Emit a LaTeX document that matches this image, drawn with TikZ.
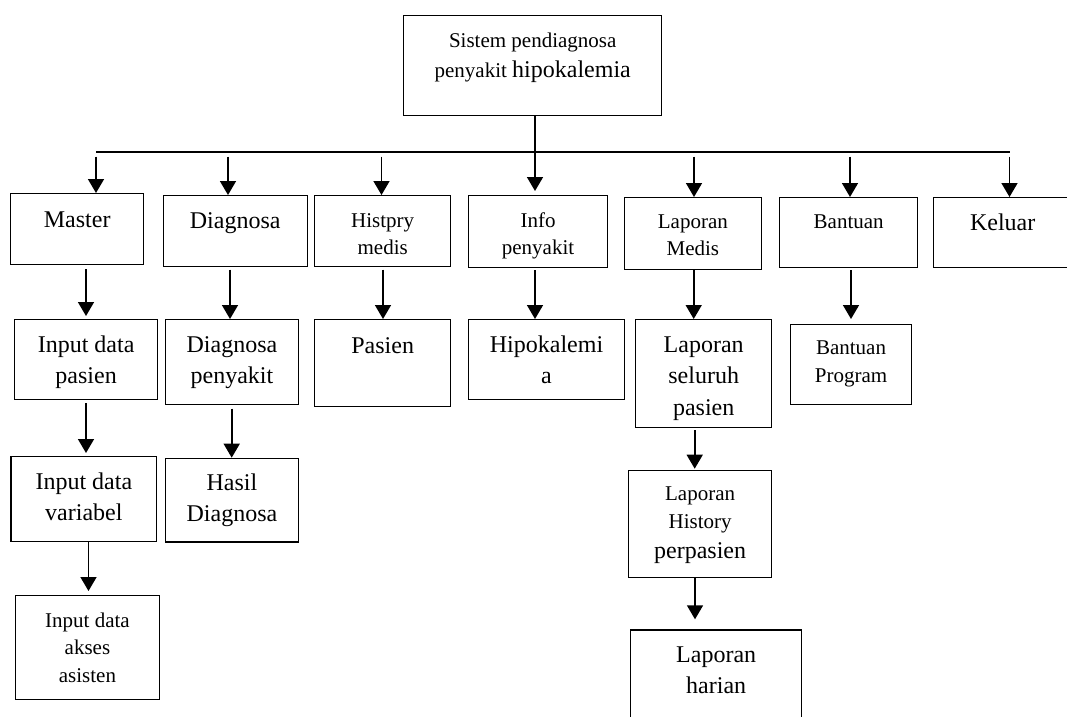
\documentclass[tikz,border=0pt]{standalone}
\usepackage{fontspec}
\setmainfont{Liberation Serif}
\usetikzlibrary{arrows.meta}
\newcommand{\fsBig}{\fontsize{24}{31.5}\selectfont}
\newcommand{\fsSmall}{\fontsize{21}{27.5}\selectfont}

\begin{document}
\begin{tikzpicture}[
    x=1pt, y=-1pt,
    box/.style={draw, line width=1.4pt, inner sep=0pt, anchor=north west},
    arr/.style={-{Triangle[width=16pt,length=14pt]}, line width=1.6pt},
    lbl/.style={anchor=base, align=center, inner sep=0pt},
    % yshift goes to the baseline of the last line
    big/.style 2 args={label={[lbl, font=\fsBig, yshift=-#1]north:#2}},
    small/.style 2 args={label={[lbl, font=\fsSmall, yshift=-#1]north:#2}}
]
\useasboundingbox (0,0) rectangle (1067,716);
\clip (0,0) rectangle (1067,716);

% top
\node[box, minimum width=258pt, minimum height=100pt, small={62pt}{Sistem pendiagnosa\\[2.5pt]penyakit {\fsBig hipokalemia}}] (top) at (403,15) {};

% menu row
\node[box, minimum width=133pt, minimum height=71pt, big={34pt}{Master}] (master) at (10,193) {};
\node[box, minimum width=144pt, minimum height=71pt, big={33pt}{Diagnosa}] (diagnosa) at (162.5,195) {};
\node[box, minimum width=136pt, minimum height=71pt, small={59.5pt}{Histpry\\medis}] (histpry) at (314,195) {};
\node[box, minimum width=139.4pt, minimum height=72pt, small={59.5pt}{Info\\penyakit}] (info) at (467.6,195) {};
\node[box, minimum width=137.3pt, minimum height=72pt, small={58.5pt}{Laporan\\Medis}] (lapmedis) at (623.5,197) {};
\node[box, minimum width=138pt, minimum height=70pt, small={31pt}{Bantuan}] (bantuan) at (779,197) {};
\node[box, minimum width=138pt, minimum height=70pt, big={33pt}{Keluar}] (keluar) at (933,197) {};

% sub menus
\node[box, minimum width=143.2pt, minimum height=79.7pt, big={64.5pt}{Input data\\pasien}] (inpasien) at (13.8,319) {};
\node[box, minimum width=132.5pt, minimum height=84.7pt, big={64.5pt}{Diagnosa\\penyakit}] (diagpenyakit) at (165,319) {};
\node[box, minimum width=136pt, minimum height=86.7pt, big={34pt}{Pasien}] (pasien) at (314,319) {};
\node[box, minimum width=156.4pt, minimum height=79.7pt, big={64.5pt}{Hipokalemi\\a}] (hipo) at (467.6,319) {};
\node[box, minimum width=136pt, minimum height=108pt, big={96pt}{Laporan\\seluruh\\pasien}] (lapseluruh) at (635,319) {};
\node[box, minimum width=121.4pt, minimum height=80pt, small={58.5pt}{Bantuan\\Program}] (bprogram) at (789.6,323.7) {};

\node[box, minimum width=145.7pt, minimum height=85pt, big={64.5pt}{Input data\\variabel}] (invariabel) at (10.3,456) {};
\node[box, minimum width=132.5pt, minimum height=83.6pt, big={64pt}{Hasil\\Diagnosa}] (hasil) at (165,457.7) {};
\node[box, minimum width=142.8pt, minimum height=107.3pt, small={88.5pt}{Laporan\\History\\[2.5pt]{\fsBig perpasien}}] (laphistory) at (628,469.7) {};

\node[box, minimum width=143.9pt, minimum height=103.7pt, small={87pt}{Input data\\akses\\asisten}] (inakses) at (14.8,595) {};
\node[box, minimum width=171pt, minimum height=110pt, big={64.5pt}{Laporan\\harian}] (lapharian) at (630,629.3) {};

% bus
\coordinate (bus-l) at (96,152);
\coordinate (bus-r) at (1010,152);
\draw[line width=1.6pt] (bus-l) -- (bus-r);
\coordinate (tap-info) at (535,115);
\draw[arr, shorten >=4pt] (tap-info) -- (tap-info |- info.north);
\foreach \n/\x in {master/96, diagnosa/228, histpry/381.5, lapmedis/694, bantuan/850, keluar/1009.5} {
  \coordinate (tap-\n) at (\x,156.5);
  \draw[arr] (tap-\n) -- (tap-\n |- \n.north);
}

% down arrows
\foreach \n/\x/\y/\s in {inpasien/86/269.3/3, diagpenyakit/230/269.5/0, pasien/383/269.5/0,
    hipo/535/270/0, lapseluruh/693.7/270/0, bprogram/851/270/4.7,
    invariabel/86/403.3/3, hasil/231.7/408.7/0, laphistory/694.7/430/1,
    inakses/88.5/542/4, lapharian/695/577/10} {
  \coordinate (from-\n) at (\x,\y);
  \draw[arr, shorten >=\s pt] (from-\n) -- (from-\n |- \n.north);
}
\end{tikzpicture}
\end{document}
